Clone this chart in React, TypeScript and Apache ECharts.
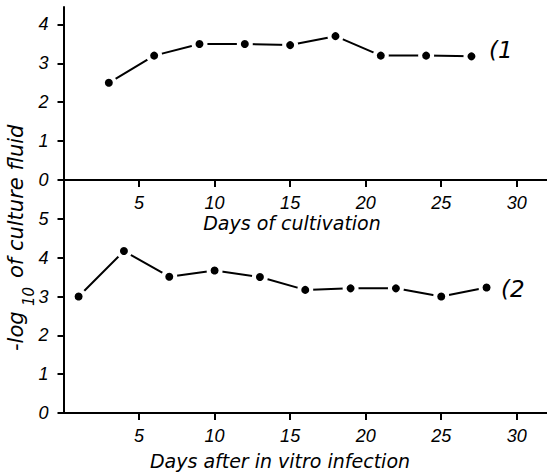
import React, { useEffect, useRef } from "react";
import * as echarts from "echarts";

const topDays = [3, 6, 9, 12, 15, 18, 21, 24, 27];
const topValues = [2.5, 3.2, 3.5, 3.5, 3.47, 3.7, 3.2, 3.2, 3.18];
const bottomDays = [1, 4, 7, 10, 13, 16, 19, 22, 25, 28];
const bottomValues = [3.0, 4.17, 3.51, 3.67, 3.5, 3.17, 3.21, 3.21, 3.0, 3.23];
const xTicks = [5, 10, 15, 20, 25, 30];
const topYTicks = [0, 1, 2, 3, 4];
const bottomYTicks = [0, 1, 2, 3, 4, 5];

const TICK_FONT = "Liberation Sans";
const TITLE_FONT = "DejaVu Sans";

export default function App() {
  const ref = useRef<HTMLDivElement>(null);
  useEffect(() => {
    document.body.style.margin = "0";
    const chart = echarts.init(ref.current!, undefined, { renderer: "svg" });
    const axisLine = { show: true, onZero: false, lineStyle: { color: "#000", width: 2 } };
    const xAxisCommon = (gridIndex: number) => ({
      type: "value" as const,
      gridIndex,
      min: 0,
      max: 32,
      axisLine,
      axisTick: { show: true, customValues: xTicks, length: 7, lineStyle: { color: "#000", width: 2 } },
      axisLabel: {
        customValues: xTicks,
        fontFamily: TICK_FONT,
        fontStyle: "italic",
        fontSize: 18,
        lineHeight: 18,
        color: "#000",
        margin: 14,
      },
      splitLine: { show: false },
    });
    const yAxisCommon = (gridIndex: number, max: number, ticks: number[]) => ({
      type: "value" as const,
      gridIndex,
      min: 0,
      max,
      axisLine,
      axisTick: { show: true, customValues: ticks, length: 6, lineStyle: { color: "#000", width: 2 } },
      axisLabel: {
        customValues: ticks,
        fontFamily: TICK_FONT,
        fontStyle: "italic",
        fontSize: 18,
        lineHeight: 18,
        color: "#000",
        margin: 15,
      },
      splitLine: { show: false },
    });
    const seriesCommon = {
      type: "line" as const,
      symbol: "circle",
      symbolSize: 12,
      lineStyle: { color: "#000", width: 2 },
      itemStyle: { color: "#000", borderColor: "#fff", borderWidth: 4 },
    };
    const titleStyle = {
      fontFamily: TITLE_FONT,
      fontStyle: "italic",
      fontSize: 19,
      fill: "#000",
    };
    chart.setOption({
      animation: false,
      backgroundColor: "#fff",
      grid: [
        { left: 63.5, top: 7, width: 484, height: 173 },
        { left: 63.5, top: 180, width: 484, height: 233 },
      ],
      xAxis: [xAxisCommon(0), xAxisCommon(1)],
      yAxis: [yAxisCommon(0, 4.45, topYTicks), yAxisCommon(1, 6, bottomYTicks)],
      series: [
        {
          ...seriesCommon,
          xAxisIndex: 0,
          yAxisIndex: 0,
          data: topDays.map((d, i) => [d, topValues[i]]),
        },
        {
          ...seriesCommon,
          xAxisIndex: 1,
          yAxisIndex: 1,
          data: bottomDays.map((d, i) => [d, bottomValues[i]]),
        },
      ],
      graphic: [
        {
          type: "text",
          x: 292,
          y: 223,
          style: { ...titleStyle, text: "Days of cultivation", align: "center", verticalAlign: "middle" },
        },
        {
          type: "text",
          x: 280,
          y: 461,
          style: { ...titleStyle, text: "Days after in vitro infection", align: "center", verticalAlign: "middle" },
        },
        {
          type: "text",
          x: 489,
          y: 50,
          style: { ...titleStyle, fontSize: 23, text: "(1", align: "left", verticalAlign: "middle" },
        },
        {
          type: "text",
          x: 501,
          y: 289,
          style: { ...titleStyle, fontSize: 23, text: "(2", align: "left", verticalAlign: "middle" },
        },
        {
          type: "group",
          x: 0,
          y: 357,
          rotation: Math.PI / 2,
          children: [
            {
              type: "text",
              x: 6,
              y: 16,
              style: { ...titleStyle, fontSize: 21, text: "-log", align: "left", verticalAlign: "middle" },
            },
            {
              type: "text",
              x: 51,
              y: 29,
              style: { ...titleStyle, fontSize: 15, text: "10", align: "left", verticalAlign: "middle" },
            },
            {
              type: "text",
              x: 79,
              y: 16,
              style: { ...titleStyle, fontSize: 21, text: "of culture fluid", align: "left", verticalAlign: "middle" },
            },
          ],
        },
      ],
    });
    return () => chart.dispose();
  }, []);
  return <div ref={ref} style={{ width: 547, height: 475 }} />;
}
